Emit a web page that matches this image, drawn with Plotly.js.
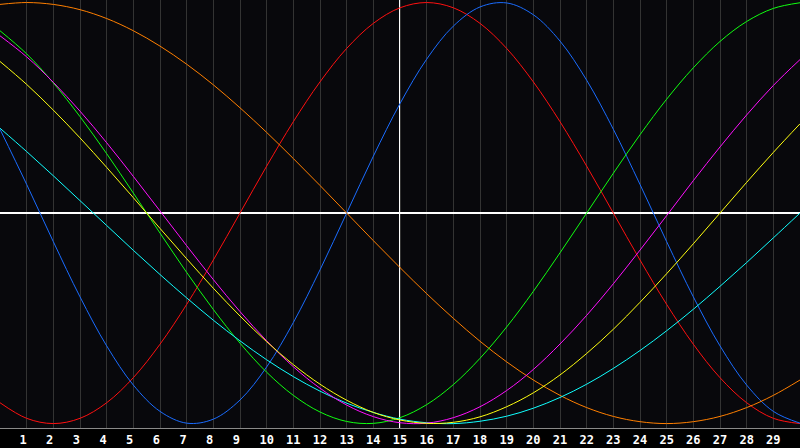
<!DOCTYPE html>
<html>
<head>
<meta charset="utf-8">
<script src="https://cdn.plot.ly/plotly-3.0.1.min.js"></script>
<style>
  html, body { margin: 0; padding: 0; background: #000; }
  #chart { width: 800px; height: 448px; }
</style>
</head>
<body>
<div id="chart"></div>
<script>
// day offsets along the bottom (0 .. 30)
var days = [0, 1, 2, 3, 4, 5, 6, 7, 8, 9, 10, 11, 12, 13, 14, 15,
            16, 17, 18, 19, 20, 21, 22, 23, 24, 25, 26, 27, 28, 29, 30];
var tickDays = [1, 2, 3, 4, 5, 6, 7, 8, 9, 10, 11, 12, 13, 14, 15,
                16, 17, 18, 19, 20, 21, 22, 23, 24, 25, 26, 27, 28, 29];

// cycle values, -1 .. 1
var red = [-0.901, -0.975, -1.000, -0.975, -0.901, -0.782, -0.623, -0.434, -0.223, 0.000,
           0.223, 0.434, 0.623, 0.782, 0.901, 0.975, 1.000, 0.975, 0.901, 0.782,
           0.623, 0.434, 0.223, 0.000, -0.223, -0.434, -0.623, -0.782, -0.901, -0.975, -1.000];
var blue = [0.398, 0.136, -0.136, -0.398, -0.631, -0.817, -0.942, -0.998, -0.979, -0.888,
            -0.731, -0.520, -0.270, 0.000, 0.270, 0.520, 0.731, 0.888, 0.979, 0.998,
            0.942, 0.817, 0.631, 0.398, 0.136, -0.136, -0.398, -0.631, -0.817, -0.942, -0.998];
var green = [0.866, 0.756, 0.618, 0.458, 0.282, 0.095, -0.095, -0.282, -0.458, -0.618,
             -0.756, -0.866, -0.945, -0.990, -0.999, -0.972, -0.910, -0.815, -0.690, -0.541,
             -0.372, -0.189, 0.000, 0.189, 0.372, 0.541, 0.690, 0.815, 0.910, 0.972, 0.999];
var magenta = [0.842, 0.742, 0.621, 0.484, 0.334, 0.174, 0.010, -0.155, -0.316, -0.468,
               -0.607, -0.730, -0.832, -0.912, -0.967, -0.996, -0.998, -0.972, -0.920, -0.843,
               -0.743, -0.622, -0.486, -0.336, -0.176, -0.012, 0.154, 0.314, 0.466, 0.606, 0.729];
var yellow = [0.720, 0.611, 0.489, 0.357, 0.217, 0.073, -0.073, -0.217, -0.357, -0.489,
              -0.611, -0.720, -0.813, -0.889, -0.947, -0.983, -0.999, -0.994, -0.968, -0.920,
              -0.854, -0.769, -0.667, -0.552, -0.424, -0.288, -0.146, 0.000, 0.146, 0.288, 0.424];
var orange = [0.991, 1.000, 0.991, 0.966, 0.924, 0.866, 0.793, 0.707, 0.609, 0.500,
              0.383, 0.259, 0.131, 0.000, -0.131, -0.259, -0.383, -0.500, -0.609, -0.707,
              -0.793, -0.866, -0.924, -0.966, -0.991, -1.000, -0.991, -0.966, -0.924, -0.866, -0.793];
var cyan = [0.403, 0.292, 0.177, 0.059, -0.059, -0.177, -0.292, -0.403, -0.509, -0.607,
            -0.697, -0.777, -0.846, -0.903, -0.947, -0.979, -0.996, -1.000, -0.989, -0.965,
            -0.927, -0.876, -0.813, -0.738, -0.653, -0.559, -0.457, -0.348, -0.235, -0.118, 0.000];

function cycle(values, color) {
    return {
        x: days,
        y: values,
        type: "scatter",
        mode: "lines",
        line: {color: color, width: 1, shape: "spline"},
        hoverinfo: "skip"
    };
}

var data = [
    cycle(red, "#ff1010"),
    cycle(blue, "#1a6cff"),
    cycle(orange, "#ff7f00"),
    cycle(green, "#10ff10"),
    cycle(cyan, "#10ffff"),
    cycle(magenta, "#ff10ff"),
    cycle(yellow, "#ffff10")
];

// single digits sit left of their grid line, as if padded to two characters
var tickText = tickDays.map(d => d < 10 ? d + "\u00a0" : String(d));

var layout = {
    width: 800,
    height: 448,
    showlegend: false,
    paper_bgcolor: "#000000",
    plot_bgcolor: "#08080c",
    margin: {l: 0, r: 0, t: 0, b: 20},
    xaxis: {
        range: [0, 30],
        tickvals: tickDays,
        ticktext: tickText,
        showgrid: true,
        gridcolor: "#333333",
        gridwidth: 1,
        zeroline: false,
        showline: true,
        mirror: true,
        linecolor: "#8a8a8a",
        linewidth: 1,
        ticks: "",
        ticklabelstandoff: 1,
        tickfont: {family: "DejaVu Sans Mono", size: 12, color: "#ffffff", weight: "bold"},
        fixedrange: true
    },
    yaxis: {
        range: [-1.021, 1.012],
        showgrid: false,
        showticklabels: false,
        zeroline: true,
        zerolinecolor: "#ffffff",
        zerolinewidth: 2,
        showline: true,
        linecolor: "#8a8a8a",
        linewidth: 1,
        ticks: "",
        fixedrange: true
    },
    shapes: [{
        type: "line",
        xref: "x", yref: "paper",
        x0: 15, x1: 15, y0: 0, y1: 1,
        line: {color: "#ffffff", width: 2},
        layer: "below"
    }]
};

Plotly.newPlot("chart", data, layout, {displayModeBar: false, staticPlot: true});
</script>
</body>
</html>
